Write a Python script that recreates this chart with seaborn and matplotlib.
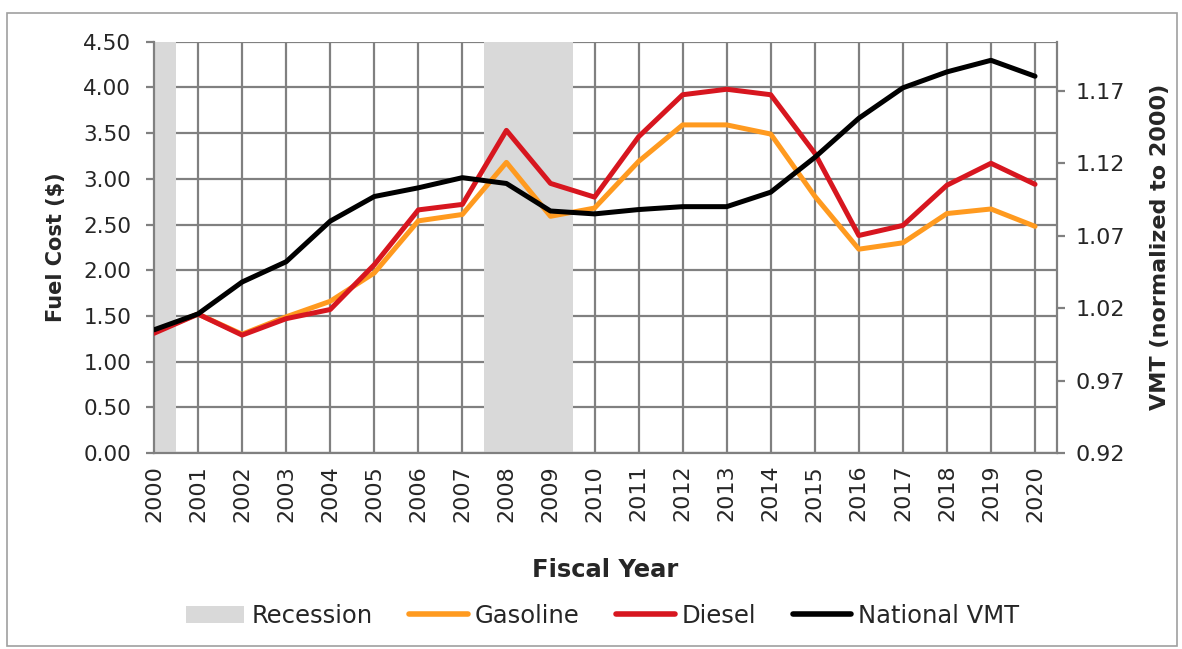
import numpy as np
import pandas as pd
import matplotlib
matplotlib.use("Agg")
import matplotlib.pyplot as plt
import seaborn as sns
from matplotlib.patches import Patch, Rectangle
from matplotlib.lines import Line2D

years = list(range(2000, 2021))
gasoline = [1.33, 1.52, 1.30, 1.49, 1.66, 1.97, 2.54, 2.61, 3.18, 2.59, 2.68,
            3.19, 3.59, 3.59, 3.49, 2.81, 2.23, 2.30, 2.62, 2.67, 2.48]
diesel = [1.31, 1.52, 1.29, 1.47, 1.57, 2.06, 2.66, 2.72, 3.53, 2.95, 2.80,
          3.46, 3.92, 3.98, 3.92, 3.28, 2.38, 2.49, 2.93, 3.17, 2.94]
vmt = [1.005, 1.016, 1.038, 1.052, 1.080, 1.097, 1.103, 1.110, 1.106, 1.087, 1.085,
       1.088, 1.090, 1.090, 1.100, 1.124, 1.151, 1.172, 1.183, 1.191, 1.180]
recession_start = [2000, 2007.5]
recession_end = [2000.5, 2009.5]

left_ticks = [0, 0.5, 1.0, 1.5, 2.0, 2.5, 3.0, 3.5, 4.0, 4.5]
right_ticks = [0.92, 0.97, 1.02, 1.07, 1.12, 1.17]

df = pd.DataFrame({"year": years, "Gasoline": gasoline, "Diesel": diesel, "VMT": vmt})

sns.set_style("white")
plt.rcParams['font.family'] = ['DejaVu Sans']

c_gas = "#FF9A1F"
c_die = "#D7161F"
c_rec = "#D9D9D9"
c_grid = "#808080"
c_txt = "#262626"

fig = plt.figure(figsize=(11.82, 6.49), dpi=100)
ax = fig.add_axes([0.1303, 0.302, 0.764, 0.6337])
ax2 = ax.twinx()

ax.set_zorder(1)
ax2.set_zorder(2)
ax.patch.set_visible(False)
ax2.patch.set_visible(False)

for s, e in zip(recession_start, recession_end):
    ax.axvspan(s, e, color=c_rec, lw=0, zorder=1)

sns.lineplot(data=df, x="year", y="Gasoline", ax=ax, color=c_gas, lw=3.6, zorder=3)
sns.lineplot(data=df, x="year", y="Diesel", ax=ax, color=c_die, lw=3.6, zorder=4)
sns.lineplot(data=df, x="year", y="VMT", ax=ax2, color="black", lw=3.6, zorder=5)

ax.set_xlim(2000, 2020.5)
ax.set_ylim(0, 4.5)
ax2.set_ylim(0.92, 0.92 + 4.5 * 0.06307)

ax.set_xticks(years)
ax.set_xticklabels([str(y) for y in years], rotation=90, fontsize=16, color=c_txt)
ax.set_yticks(left_ticks)
ax.set_yticklabels([f"{t:.2f}" for t in left_ticks], fontsize=15.5, color=c_txt)
ax2.set_yticks(right_ticks)
ax2.set_yticklabels([f"{t:.2f}" for t in right_ticks], fontsize=16, color=c_txt)

ax.grid(True, color=c_grid, lw=1.6, zorder=0)
ax.set_axisbelow(True)
for a in (ax, ax2):
    for sp in a.spines.values():
        sp.set_visible(False)
ax.spines["left"].set_visible(True)
ax.spines["bottom"].set_visible(True)
ax2.spines["right"].set_visible(True)
for sp in (ax.spines["left"], ax.spines["bottom"], ax2.spines["right"]):
    sp.set_color(c_grid)
    sp.set_linewidth(1.6)

ax.tick_params(axis="x", direction="out", length=5.5, width=1.6, color=c_grid, pad=3)
ax.tick_params(axis="y", direction="out", length=5.5, width=1.6, color=c_grid, pad=11)
ax2.tick_params(axis="y", direction="out", length=5.5, width=1.6, color=c_grid, pad=8)

ax.set_xlabel("Fiscal Year", fontsize=17.5, fontweight="bold", labelpad=26)
ax.set_ylabel("Fuel Cost ($)", fontsize=15, fontweight="bold", labelpad=12)
ax2.set_ylabel("VMT (normalized to 2000)", fontsize=16, fontweight="bold", labelpad=18)

handles = [Patch(facecolor=c_rec, edgecolor="none", label="Recession"),
           Line2D([], [], color=c_gas, lw=4, label="Gasoline"),
           Line2D([], [], color=c_die, lw=4, label="Diesel"),
           Line2D([], [], color="black", lw=4, label="National VMT")]
leg = fig.legend(handles=handles, loc="center", bbox_to_anchor=(0.51, 0.051), ncol=4,
                 frameon=False, fontsize=17.5, handlelength=2.4, handletextpad=0.3,
                 columnspacing=1.5)
for t in leg.get_texts():
    t.set_color(c_txt)

fig.patches.append(Rectangle((0.006, 0.005), 0.99, 0.975, transform=fig.transFigure,
                             fill=False, edgecolor="#A0A0A0", lw=1.2))

fig.savefig("out.png", dpi=100)
